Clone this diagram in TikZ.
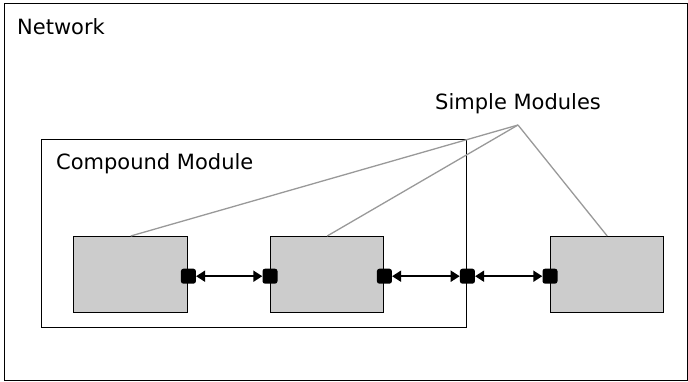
\documentclass[tikz,border=0pt]{standalone}
\usepackage{fontspec}
\setmainfont{DejaVu Sans}
\usetikzlibrary{arrows.meta}
\definecolor{modfill}{HTML}{CCCCCC}
\definecolor{ptr}{HTML}{999999}
\begin{document}
\begin{tikzpicture}[x=1pt,y=-1pt,
  box/.style={draw=black, line width=1.4pt, inner sep=0pt, anchor=north west},
  simple/.style={box, fill=modfill, minimum height=76pt},
  gate/.style={fill=black, rounded corners=2.5pt, minimum size=15pt, inner sep=0pt},
  conn/.style={line width=1.8pt, {Triangle[length=9pt,width=11pt]}-{Triangle[length=9pt,width=11pt]}},
  pointer/.style={draw=ptr, line width=1.3pt},
  lbl/.style={anchor=base west, inner sep=0pt, font=\fontsize{21}{25}\selectfont}]
\useasboundingbox (0,0) rectangle (688,382);
\node[box, minimum width=683pt, minimum height=377pt] (net) at (4,3) {};
\node[box, minimum width=425pt, minimum height=188pt] (comp) at (41,139) {};
\node[simple, minimum width=114pt] (m1) at (73,236) {};
\node[simple, minimum width=113pt] (m2) at (270,236) {};
\node[simple, minimum width=113pt] (m3) at (550,236) {};
\node[lbl] (tnet) at (17,35) {Network};
\node[lbl] (tcomp) at (56,170) {Compound Module};
\node[lbl] (tsimple) at (435,110) {Simple Modules};
\coordinate (sm) at (518,125);
\draw[pointer] (sm) -- (m1.north);
\draw[pointer] (sm) -- (m2.north);
\draw[pointer] (sm) -- (m3.north);
\node[gate] (g1) at ([yshift=-1.5pt]m1.east) {};
\node[gate] (g2) at ([yshift=-1.5pt]m2.west) {};
\node[gate] (g3) at ([yshift=-1.5pt]m2.east) {};
\node[gate] (g4) at (comp.east |- g3) {};
\node[gate] (g5) at ([yshift=-1.5pt]m3.west) {};
\draw[conn] (g1) -- (g2);
\draw[conn] (g3) -- (g4);
\draw[conn] (g4) -- (g5);
\end{tikzpicture}
\end{document}
